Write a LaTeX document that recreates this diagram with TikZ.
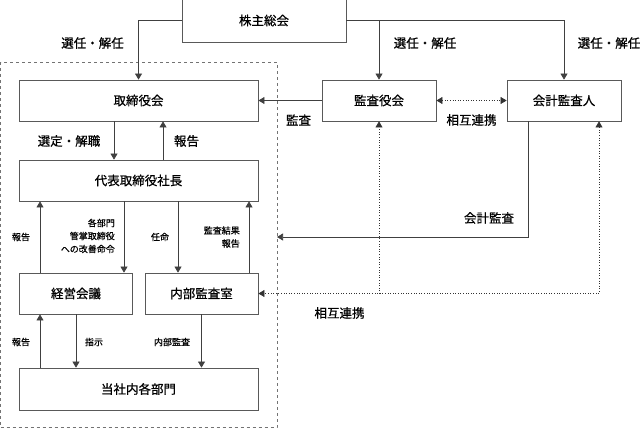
\documentclass[tikz,border=0pt]{standalone}
\usepackage{fontspec}
\setmainfont{Noto Sans CJK JP}[FakeBold=0.7]
\usepackage{tikz}
\usetikzlibrary{arrows.meta}

\begin{document}
\begin{tikzpicture}[x=1pt, y=-1pt,
        box/.style={draw=black!65, line width=0.8pt, rectangle, inner sep=0pt, font=\fontsize{12.5}{15}\selectfont},
        lbl/.style={inner sep=0pt, font=\fontsize{12.5}{15}\selectfont},
        small/.style={inner sep=0pt, font=\fontsize{9}{13}\selectfont},
        arr/.style={draw=black!75, line width=0.7pt, -{Triangle[length=6pt,width=7pt]}},
        dot/.style={black!80, line width=0.6pt, dotted}]
        \useasboundingbox (0,0) rectangle (642,428);

        % Nodes
        \node (company) [draw=black!55, dashed, minimum width=276.5, minimum height=365] at (138.75,244.5) {};
        \node (soukai) [box, minimum width=164, minimum height=43] at (264,20.5) {株主総会};
        \node (torishimari) [box, minimum width=239, minimum height=41] at (138.5,100.5) {取締役会};
        \node (kansayaku) [box, minimum width=114, minimum height=41] at (379,100.5) {監査役会};
        \node (kaikei) [box, minimum width=114, minimum height=41] at (564,100.5) {会計監査人};
        \node (shacho) [box, minimum width=239, minimum height=41] at (138.5,180.5) {代表取締役社長};
        \node (keiei) [box, minimum width=113, minimum height=41] at (76,293.5) {経営会議};
        \node (naibu) [box, minimum width=113, minimum height=41] at (201.5,293.5) {内部監査室};
        \node (kakubu) [box, minimum width=239, minimum height=42] at (138.5,389) {当社内各部門};
        \coordinate (auditin) at (277,237);

        % Labels
        \node (sennin1) [lbl] at (92.5,43) {選任・解任};
        \node (sennin2) [lbl] at (425,43) {選任・解任};
        \node (sennin3) [lbl] at (609,43) {選任・解任};
        \node (kansa) [lbl] at (298.5,120) {監査};
        \node (renkei1) [lbl] at (471.5,120) {相互連携};
        \node (sentei) [lbl] at (69,141) {選定・解職};
        \node (houkoku1) [lbl] at (186.5,141) {報告};
        \node (houkoku2) [small] at (21,237) {報告};
        \node (kaizen) [small, anchor=east, align=right] at (115,236) {各部門\\管掌取締役\\への改善命令};
        \node (ninmei) [small] at (160,237) {任命};
        \node (kekka) [small, anchor=east, align=right] at (240,237) {監査結果\\報告};
        \node (kaikeikansa) [lbl] at (489,218) {会計監査};
        \node (renkei2) [lbl] at (339.5,313) {相互連携};
        \node (houkoku3) [small] at (21,342) {報告};
        \node (shiji) [small] at (94,342) {指示};
        \node (naibukansa) [small] at (172,342) {内部監査};

        % Arrows
        \draw[arr] (soukai.west) -| (torishimari.north);
        \draw[arr] (soukai.east) -| (kaikei.north);
        \draw[arr] (kansayaku.north |- soukai.east) -- (kansayaku.north);
        \draw[arr] (kansayaku.west) -- (torishimari.east);
        \draw[dot, {Triangle[length=6pt,width=7pt]}-{Triangle[length=6pt,width=7pt]}] (kansayaku.east) -- (kaikei.west);
        \draw[arr] ([xshift=-24.5]torishimari.south) -- ([xshift=-24.5]shacho.north);
        \draw[arr] ([xshift=24.5]shacho.north) -- ([xshift=24.5]torishimari.south);
        \draw[arr] ([xshift=-36]keiei.north) -- ([xshift=-98.5]shacho.south);
        \draw[arr] ([xshift=-14.5]shacho.south) -- ([xshift=48]keiei.north);
        \draw[arr] ([xshift=39.5]shacho.south) -- ([xshift=-23.5]naibu.north);
        \draw[arr] ([xshift=47.5]naibu.north) -- ([xshift=110.5]shacho.south);
        \draw[arr] ([xshift=-36]kaikei.south) |- (auditin);
        \draw[dot, {Triangle[length=6pt,width=7pt]}-{Triangle[length=6pt,width=7pt]}] ([xshift=35]kaikei.south) |- (naibu.east);
        \draw[dot, -{Triangle[length=6pt,width=7pt]}] (kansayaku.south |- naibu.east) -- (kansayaku.south);
        \draw[arr] (keiei.south) -- (keiei.south |- kakubu.north);
        \draw[arr] ([xshift=-98.5]kakubu.north) -- ([xshift=-36]keiei.south);
        \draw[arr] (naibu.south) -- (naibu.south |- kakubu.north);
    \end{tikzpicture}
\end{document}
